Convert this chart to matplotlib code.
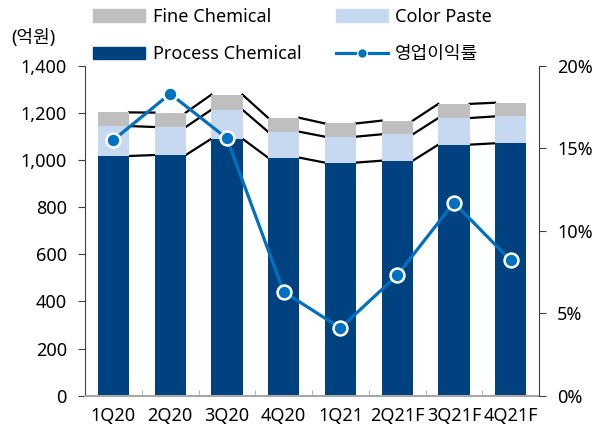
import matplotlib.pyplot as plt
import matplotlib.ticker as mticker
from matplotlib.patches import Patch
from matplotlib.lines import Line2D
import numpy as np

plt.rcParams['font.family'] = ['Noto Sans', 'Noto Sans CJK KR']
plt.rcParams['font.size'] = 13

# 분기별 매출 (억원) 및 영업이익률 (%)
quarters = ['1Q20', '2Q20', '3Q20', '4Q20', '1Q21', '2Q21F', '3Q21F', '4Q21F']
process_chem = [1017, 1021, 1090, 1010, 989, 997, 1065, 1071]
color_paste = [127, 119, 123, 110, 110, 112, 113, 114]
fine_chem = [58, 61, 64, 59, 56, 58, 60, 58]
op_margin = [15.5, 18.3, 15.6, 6.3, 4.1, 7.3, 11.7, 8.2]

c_process = '#00417F'
c_color = '#C6D9F0'
c_fine = '#BFBFBF'
c_line = '#0070C0'

fig = plt.figure(figsize=(6.05, 4.34), dpi=100)
ax = fig.add_axes([0.1405, 0.0882, 0.7505, 0.7604])

x = np.arange(len(quarters))
w = 0.55
p = np.array(process_chem)
c = np.array(color_paste)
f = np.array(fine_chem)

ax.bar(x, p, w, color=c_process, zorder=2)
ax.bar(x, c, w, bottom=p, color=c_color, zorder=2)
ax.bar(x, f, w, bottom=p + c, color=c_fine, zorder=2)

# 누적 막대 상단을 잇는 연결선
for level in [p, p + c, p + c + f]:
    for i in range(len(x) - 1):
        ax.plot([x[i] + w / 2, x[i + 1] - w / 2], [level[i], level[i + 1]],
                color='black', lw=1.6, zorder=1)

ax.set_xlim(-0.5, len(x) - 0.5)
ax.set_ylim(0, 1400)
ax.set_yticks(range(0, 1401, 200))
ax.yaxis.set_major_formatter(mticker.StrMethodFormatter('{x:,.0f}'))
ax.set_xticks(x)
ax.set_xticklabels(quarters)
ax.set_xticks(np.arange(-0.5, len(x), 1), minor=True)
ax.tick_params(axis='x', which='major', length=0, pad=8)
ax.tick_params(axis='x', which='minor', direction='in', length=4, color='#A6A6A6')
ax.tick_params(axis='y', direction='out', length=5, color='#404040', pad=8)
ax.spines['top'].set_visible(False)
ax.spines['bottom'].set_color('#A6A6A6')
ax.spines['bottom'].set_linewidth(1.5)
ax.spines['left'].set_color('#404040')
ax.spines['right'].set_visible(False)

ax2 = ax.twinx()
ax2.plot(x, op_margin, color=c_line, lw=2.3, marker='o', markersize=10,
         markerfacecolor=c_line, markeredgecolor='white', markeredgewidth=1.8, zorder=3)
ax2.set_ylim(0, 20)
ax2.set_yticks(range(0, 21, 5))
ax2.yaxis.set_major_formatter(mticker.StrMethodFormatter('{x:.0f}%'))
ax2.tick_params(axis='y', direction='out', length=5, color='#404040', pad=8)
ax2.spines['top'].set_visible(False)
ax2.spines['left'].set_visible(False)
ax2.spines['bottom'].set_visible(False)
ax2.spines['right'].set_color('#404040')

fig.text(0.018, 0.912, '(억원)', ha='left', va='center', fontsize=13)

handles = [
    Patch(color=c_fine, label='Fine Chemical'),
    Patch(color=c_process, label='Process Chemical'),
    Patch(color=c_color, label='Color Paste'),
    Line2D([], [], color=c_line, lw=2.3, marker='o', markersize=7,
           markeredgecolor='white', markeredgewidth=1, label='영업이익률'),
]
fig.legend(handles=handles, ncol=2, loc='upper left', bbox_to_anchor=(0.127, 1.02),
           frameon=False, handlelength=2.9, handleheight=0.7, handletextpad=0.4,
           columnspacing=1.9, labelspacing=1.1, fontsize=13)

fig.savefig('out.png', dpi=100)
